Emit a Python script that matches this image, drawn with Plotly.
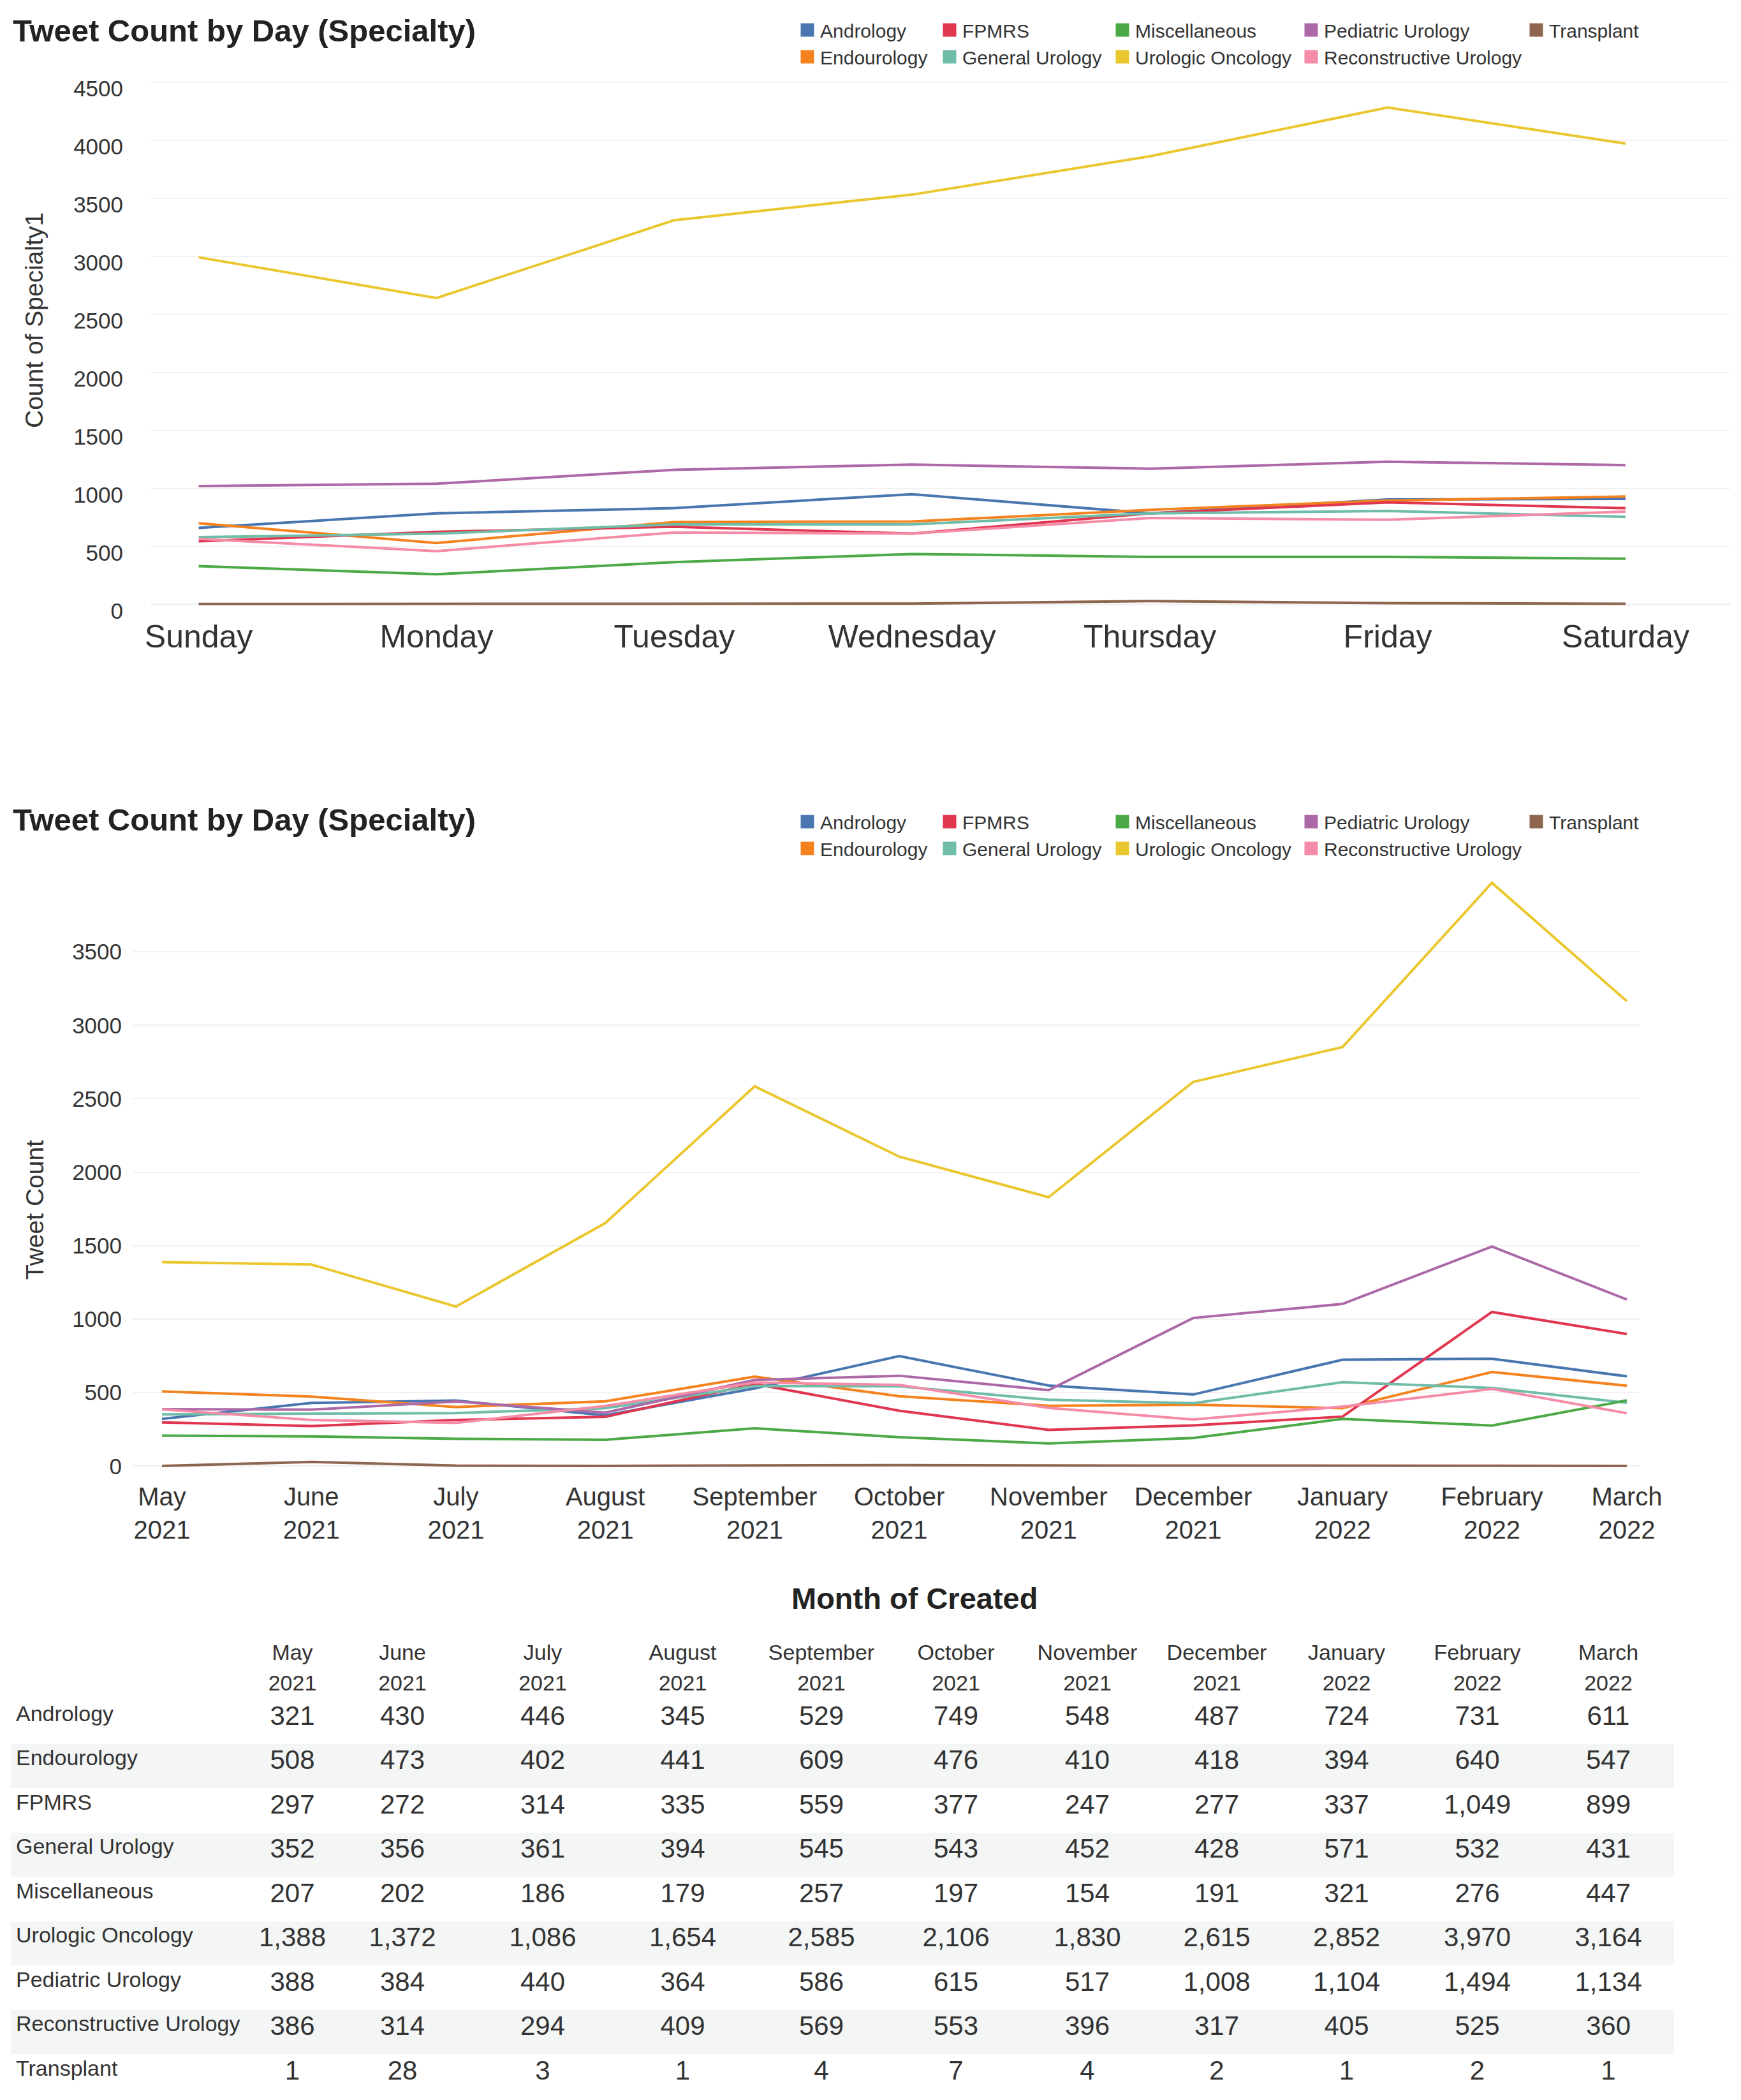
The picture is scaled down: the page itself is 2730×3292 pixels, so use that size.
import pandas as pd
import plotly.graph_objects as go

W, H = 2730, 3292
OFF = 8                      # the page body margin around the plot div
FW, FH = W - 2 * OFF, H - OFF
FONT = "Liberation Sans, Arial, Helvetica, sans-serif"
INK = "#333333"

days = ["Sunday", "Monday", "Tuesday", "Wednesday", "Thursday", "Friday", "Saturday"]
months = ["May 2021", "June 2021", "July 2021", "August 2021", "September 2021",
          "October 2021", "November 2021", "December 2021", "January 2022",
          "February 2022", "March 2022"]
specialties = ["Andrology", "Endourology", "FPMRS", "General Urology", "Miscellaneous",
               "Urologic Oncology", "Pediatric Urology", "Reconstructive Urology", "Transplant"]
colors = ["#4a76b0", "#f4831f", "#e0364f", "#6fbca9", "#4ba946",
          "#eac72e", "#ad68a8", "#f58ca7", "#8e654f"]

# tweets by weekday
andrology_day = [660, 785, 830, 950, 785, 905, 910]
endourology_day = [700, 530, 710, 715, 815, 895, 930]
fpmrs_day = [545, 625, 670, 610, 785, 880, 830]
general_day = [580, 610, 690, 690, 785, 805, 755]
misc_day = [330, 260, 365, 435, 410, 410, 395]
oncology_day = [2990, 2640, 3310, 3530, 3860, 4280, 3970]
pediatric_day = [1020, 1040, 1160, 1205, 1170, 1230, 1200]
reconstructive_day = [565, 460, 620, 610, 745, 730, 800]
transplant_day = [5, 8, 6, 8, 30, 12, 6]

# tweets by month (the table under the lower chart)
andrology_month = [321, 430, 446, 345, 529, 749, 548, 487, 724, 731, 611]
endourology_month = [508, 473, 402, 441, 609, 476, 410, 418, 394, 640, 547]
fpmrs_month = [297, 272, 314, 335, 559, 377, 247, 277, 337, 1049, 899]
general_month = [352, 356, 361, 394, 545, 543, 452, 428, 571, 532, 431]
misc_month = [207, 202, 186, 179, 257, 197, 154, 191, 321, 276, 447]
oncology_month = [1388, 1372, 1086, 1654, 2585, 2106, 1830, 2615, 2852, 3970, 3164]
pediatric_month = [388, 384, 440, 364, 586, 615, 517, 1008, 1104, 1494, 1134]
reconstructive_month = [386, 314, 294, 409, 569, 553, 396, 317, 405, 525, 360]
transplant_month = [1, 28, 3, 1, 4, 7, 4, 2, 1, 2, 1]

by_day = [andrology_day, endourology_day, fpmrs_day, general_day, misc_day,
          oncology_day, pediatric_day, reconstructive_day, transplant_day]
by_month = [andrology_month, endourology_month, fpmrs_month, general_month, misc_month,
            oncology_month, pediatric_month, reconstructive_month, transplant_month]

# the month axis is a real time axis (February is shorter)
month_dates = pd.to_datetime(months, format="%B %Y")


# page pixel -> paper fraction
def px(x):
    return (x - OFF) / FW


def py(y):
    return 1 - (y - OFF) / FH


fig = go.Figure()

for i, name in enumerate(specialties):
    fig.add_trace(go.Scatter(x=days, y=by_day[i], mode="lines", name=name,
                             line=dict(color=colors[i], width=4),
                             showlegend=False, xaxis="x", yaxis="y"))
    fig.add_trace(go.Scatter(x=month_dates, y=by_month[i], mode="lines", name=name,
                             line=dict(color=colors[i], width=4),
                             showlegend=False, xaxis="x2", yaxis="y2"))

# legend swatches: one small vertical legend per column, two rows each
legend_cols = [1246, 1469, 1740, 2036, 2389]
legend_tops = [21, 1262]
layout_legends = {}
for chart in range(2):
    for i, name in enumerate(specialties):
        col = i // 2
        lid = "legend" if chart == 0 and col == 0 else "legend%d" % (chart * 5 + col + 1)
        fig.add_trace(go.Scatter(x=[None], y=[None], mode="markers", name=name,
                                 marker=dict(symbol="square", size=16, color=colors[i],
                                             line=dict(color=colors[i], width=6)),
                                 legend=lid, xaxis="x" if chart == 0 else "x2",
                                 yaxis="y" if chart == 0 else "y2"))
        layout_legends[lid] = dict(x=px(legend_cols[col]), y=py(legend_tops[chart]),
                                   xanchor="left", yanchor="top", orientation="v",
                                   bgcolor="rgba(0,0,0,0)", borderwidth=0,
                                   font=dict(family=FONT, size=30, color=INK),
                                   itemclick=False, itemdoubleclick=False,
                                   tracegroupgap=0)

grid = "#f1f1f1"
fig.update_layout(
    width=FW, height=FH, autosize=False,
    margin=dict(l=0, r=0, t=0, b=0, pad=0, autoexpand=False),
    paper_bgcolor="white", plot_bgcolor="white",
    font=dict(family=FONT, color=INK),
    xaxis=dict(domain=[px(237), px(2713)], anchor="y", type="category",
               range=[-0.2, 6.44], showgrid=False, zeroline=False, showline=False,
               ticks="", automargin=False, tickfont=dict(size=50, color=INK)),
    yaxis=dict(domain=[py(964), py(114)], anchor="x", range=[-90, 4580],
               tickvals=list(range(0, 5000, 500)), showgrid=True, gridcolor=grid,
               gridwidth=2, zeroline=False, showline=False, ticks="", automargin=False,
               ticklabelstandoff=43, ticklabelshift=10,
               tickfont=dict(size=35, color=INK)),
    xaxis2=dict(domain=[px(208), px(2572)], anchor="y2", type="date",
                range=["2021-04-24 21:50", "2022-03-03 18:40"],
                showgrid=False, zeroline=False, showline=False,
                ticks="", automargin=False, tickvals=month_dates,
                ticktext=[m.replace(" ", "<br>") for m in months],
                tickfont=dict(size=40, color=INK)),
    yaxis2=dict(domain=[py(2319), py(1377)], anchor="x2", range=[-90, 4000],
                tickvals=list(range(0, 4000, 500)), showgrid=True, gridcolor=grid,
                gridwidth=2, zeroline=False, showline=False, ticks="", automargin=False,
                ticklabelstandoff=16, tickfont=dict(size=35, color=INK)),
    **layout_legends,
)

# dotted baseline at zero
for ax in ["", "2"]:
    fig.add_shape(type="line", xref="x%s domain" % ax, yref="y" + ax,
                  x0=0, x1=1, y0=0, y1=0, layer="below",
                  line=dict(color="#c8c8c8", width=2, dash="dot"))

for y in [48, 1285]:
    fig.add_annotation(text="<b>Tweet Count by Day (Specialty)</b>", x=px(18), y=py(y),
                       xref="paper", yref="paper", xanchor="left", yanchor="middle",
                       showarrow=False, font=dict(family=FONT, size=49, color="#222222"))

for text, x, y in [("Count of Specialty1", 54, 502), ("Tweet Count", 54, 1897)]:
    fig.add_annotation(text=text, x=px(x), y=py(y), xref="paper", yref="paper",
                       textangle=-90, xanchor="center", yanchor="middle", showarrow=False,
                       font=dict(family=FONT, size=39, color=INK))

fig.add_annotation(text="<b>Month of Created</b>", x=px(1434), y=py(2505), xref="paper",
                   yref="paper", xanchor="center", yanchor="middle", showarrow=False,
                   font=dict(family=FONT, size=47, color="#222222"))

# table of monthly counts
row_fill = ["white" if r % 2 == 0 else "#f4f6f6" for r in range(len(specialties))]
cell_cols = [specialties] + [["{:,}".format(by_month[r][c]) for r in range(len(specialties))]
                             for c in range(len(months))]
head_cols = [["", ""]] + [m.split(" ") for m in months]
fig.add_trace(go.Table(
    domain=dict(x=[px(17), px(2625)], y=[py(3292), py(2568)]),
    columnwidth=[380, 123, 222, 218, 221, 214, 208, 204, 202, 205, 205, 206],
    header=dict(values=head_cols, height=48,
                align=["left"] + ["center"] * len(months),
                fill_color="white", line=dict(color="white", width=0),
                font=dict(family=FONT, size=34, color=INK)),
    cells=dict(values=cell_cols, height=69.5,
               align=["left"] + ["center"] * len(months),
               fill_color=[row_fill] * (len(months) + 1),
               line=dict(color=[row_fill] * (len(months) + 1), width=0),
               font=dict(family=FONT, size=[34] + [42] * len(months), color=INK)),
))

fig.write_html("out.html")
